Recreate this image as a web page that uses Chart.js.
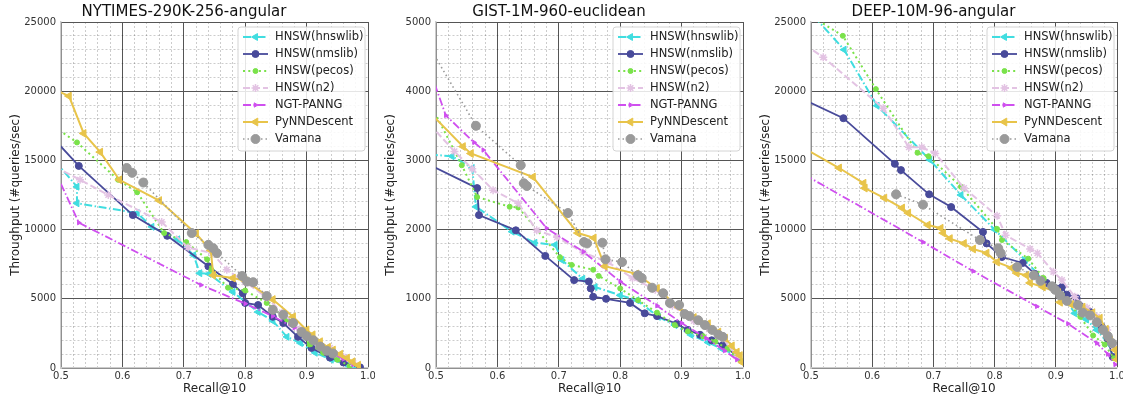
<!DOCTYPE html>
<html>
<head>
<meta charset="utf-8">
<script src="https://cdn.jsdelivr.net/npm/chart.js@4.4.0/dist/chart.umd.min.js"></script>
<style>
  html, body { margin: 0; padding: 0; background: #fff; }
  body { width: 1123px; height: 395px; position: relative; overflow: hidden; }
  .panel { position: absolute; top: 0; width: 380px; height: 395px; }
  canvas { display: block; }
</style>
</head>
<body>
<div class="panel" style="left:0px"><canvas id="c0" width="380" height="395"></canvas></div>
<div class="panel" style="left:375px"><canvas id="c1" width="380" height="395"></canvas></div>
<div class="panel" style="left:750px"><canvas id="c2" width="380" height="395"></canvas></div>
<script>
// series names, same order in each panel
const seriesNames = ['HNSW(hnswlib)', 'HNSW(nmslib)', 'HNSW(pecos)', 'HNSW(n2)', 'NGT-PANNG', 'PyNNDescent', 'Vamana'];
const panelTitles = ['NYTIMES-290K-256-angular', 'GIST-1M-960-euclidean', 'DEEP-10M-96-angular'];
const yMaxes = [25000, 5000, 25000];

// [recall, queries/sec]
const nytHnswlib = [[0.49,14970],[0.526,13100],[0.526,11900],[0.624,11200],[0.648,10200],[0.69,9300],[0.716,8150],[0.726,6850],[0.741,6800],[0.78,5500],[0.821,4050],[0.845,3400],[0.868,2250],[0.89,1800],[0.914,1100],[0.94,600],[0.966,220],[0.98,50]];
const nytNmslib = [[0.49,16480],[0.529,14600],[0.617,11050],[0.673,9550],[0.74,7350],[0.78,6050],[0.796,5400],[0.8,4700],[0.821,4550],[0.845,3700],[0.862,3250],[0.886,2250],[0.908,1450],[0.938,750],[0.96,400],[0.987,50]];
const nytPecos = [[0.49,17400],[0.526,16300],[0.593,13600],[0.624,12700],[0.668,9750],[0.704,9100],[0.738,7850],[0.745,7100],[0.772,5800],[0.8,5600],[0.835,4700],[0.868,3500],[0.89,2600],[0.905,1700],[0.927,1100],[0.95,600],[0.97,150]];
const nytN2 = [[0.49,14530],[0.531,13600],[0.577,12500],[0.664,10550],[0.707,8700],[0.746,8300],[0.77,7100],[0.8,6200],[0.835,5100],[0.86,4000],[0.889,2800],[0.91,2100],[0.938,1450],[0.96,800],[0.976,350]];
const nytPanng = [[0.49,14260],[0.529,10500],[0.728,6000],[0.8,4650],[0.845,3750],[0.88,2900],[0.91,1900],[0.94,1100],[0.96,650],[0.976,250]];
const nytPynn = [[0.49,20100],[0.513,19650],[0.537,16950],[0.564,15600],[0.595,13600],[0.66,12100],[0.72,9700],[0.744,8500],[0.748,6700],[0.78,6500],[0.8,6300],[0.845,4950],[0.878,3700],[0.9,2750],[0.91,2400],[0.922,1900],[0.935,1500],[0.943,1300],[0.955,1000],[0.966,720],[0.975,450],[0.984,200]];
const nytVamana = [[0.607,14450],[0.616,14100],[0.634,13400],[0.713,9750],[0.74,8900],[0.748,8650],[0.754,8300],[0.795,6650],[0.803,6250],[0.813,6200],[0.835,5200],[0.845,4200],[0.862,3850],[0.878,3250],[0.892,2600],[0.9,2300],[0.911,2000],[0.922,1550],[0.933,1250],[0.943,1050]];

const gistHnswlib = [[0.49,3085],[0.526,3060],[0.559,2890],[0.565,2330],[0.624,1970],[0.661,1810],[0.694,1780],[0.705,1560],[0.739,1290],[0.759,1170],[0.8,1050],[0.827,980],[0.862,740],[0.889,620],[0.915,480],[0.943,370],[0.965,280],[0.987,190]];
const gistNmslib = [[0.49,2935],[0.567,2600],[0.57,2210],[0.63,1990],[0.678,1620],[0.725,1270],[0.749,1250],[0.752,1150],[0.756,1030],[0.777,1000],[0.816,940],[0.84,790],[0.86,750],[0.892,640],[0.91,550],[0.93,480],[0.949,400],[0.967,330],[0.99,180]];
const gistPecos = [[0.49,3830],[0.542,2930],[0.567,2470],[0.62,2330],[0.634,2320],[0.702,1600],[0.721,1490],[0.756,1420],[0.765,1330],[0.8,1150],[0.829,980],[0.86,800],[0.889,620],[0.91,530],[0.935,460],[0.955,380],[0.975,280],[0.987,200],[0.995,120]];
const gistN2 = [[0.49,3520],[0.53,3130],[0.559,2880],[0.593,2570],[0.634,2380],[0.664,1990],[0.697,1890],[0.74,1670],[0.78,1530],[0.82,1300],[0.857,1130],[0.885,900],[0.92,680],[0.945,560],[0.967,430],[0.99,170]];
const gistPanng = [[0.49,4300],[0.516,3650],[0.562,3260],[0.577,3150],[0.68,2020],[0.74,1680],[0.8,1250],[0.86,900],[0.9,650],[0.94,430],[0.97,250],[0.99,120]];
const gistPynn = [[0.49,3690],[0.544,3200],[0.557,3100],[0.658,2760],[0.731,1950],[0.757,1880],[0.775,1470],[0.826,1360],[0.86,1150],[0.895,880],[0.92,730],[0.943,640],[0.96,520],[0.971,430],[0.982,320],[0.99,230],[0.995,180],[0.999,80]];
const gistVamana = [[0.49,4630],[0.565,3500],[0.638,2930],[0.643,2670],[0.648,2630],[0.715,2240],[0.741,1820],[0.746,1800],[0.771,1810],[0.776,1570],[0.803,1530],[0.829,1340],[0.835,1300],[0.852,1160],[0.87,1080],[0.881,940],[0.896,910],[0.905,780],[0.913,750],[0.927,690],[0.938,620],[0.95,550],[0.96,480],[0.967,450]];

const deepHnswlib = [[0.505,25400],[0.554,23000],[0.608,18950],[0.694,15050],[0.745,12500],[0.8,10000],[0.85,7800],[0.88,6300],[0.907,5600],[0.931,3950],[0.95,3500],[0.967,2750],[0.985,1800],[0.994,800]];
const deepNmslib = [[0.49,19360],[0.553,18050],[0.637,14750],[0.647,14300],[0.693,12550],[0.729,11630],[0.781,9830],[0.787,9000],[0.812,8020],[0.846,7590],[0.866,6800],[0.885,6150],[0.91,5850],[0.918,5300],[0.934,5050],[0.956,4050],[0.975,3000],[0.985,2100],[0.993,800]];
const deepPecos = [[0.505,25300],[0.552,24000],[0.606,20150],[0.674,15550],[0.692,15300],[0.745,13100],[0.804,10050],[0.812,9250],[0.855,7900],[0.88,6500],[0.91,5300],[0.94,3700],[0.961,2350],[0.98,1700],[0.995,700]];
const deepN2 = [[0.49,23350],[0.52,22450],[0.618,18770],[0.66,15950],[0.681,15950],[0.703,15500],[0.75,13000],[0.804,11000],[0.818,9600],[0.858,8600],[0.87,8300],[0.896,6950],[0.91,6350],[0.931,5150],[0.951,4350],[0.967,3700],[0.984,2750],[0.995,1500]];
const deepPanng = [[0.49,13950],[0.683,9100],[0.765,7000],[0.869,4450],[0.92,3200],[0.967,1800],[0.985,1000],[0.997,250]];
const deepPynn = [[0.49,15850],[0.546,14450],[0.586,13350],[0.588,13000],[0.62,12280],[0.649,11560],[0.659,11200],[0.691,10330],[0.712,10100],[0.716,9750],[0.727,9350],[0.75,9000],[0.765,8600],[0.787,8300],[0.804,7650],[0.828,7230],[0.836,6860],[0.852,6700],[0.858,6150],[0.879,5850],[0.904,5450],[0.907,4750],[0.925,4600],[0.944,4400],[0.96,4000],[0.972,3600],[0.982,2800],[0.989,2000],[0.997,1300],[1.0,600]];
const deepVamana = [[0.639,12550],[0.683,11800],[0.776,9250],[0.806,8650],[0.81,8300],[0.837,7300],[0.864,6700],[0.875,6300],[0.894,5900],[0.899,5650],[0.907,5250],[0.918,4850],[0.936,4550],[0.944,4000],[0.956,3800],[0.967,3300],[0.977,2750],[0.985,2300],[0.992,1800]];

const panelSeries = [
    [nytHnswlib, nytNmslib, nytPecos, nytN2, nytPanng, nytPynn, nytVamana],
    [gistHnswlib, gistNmslib, gistPecos, gistN2, gistPanng, gistPynn, gistVamana],
    [deepHnswlib, deepNmslib, deepPecos, deepN2, deepPanng, deepPynn, deepVamana]
];

const styles = [
    { color: '#40DDE0', dash: [8, 2.5, 1.5, 2.5], width: 2, point: 'triangle', rot: -90, r: 4 },
    { color: '#484A9A', dash: [], width: 1.8, point: 'circle', rot: 0, r: 3.5 },
    { color: '#7AE24A', dash: [2, 3.3], width: 2, point: 'circle', rot: 0, r: 2.5 },
    { color: '#E3C3E3', dash: [7, 3], width: 2, point: 'star', rot: 0, r: 4 },
    { color: '#CF4FEF', dash: [8, 2.5, 1.5, 2.5], width: 1.8, point: 'triangle', rot: 90, r: 2.5 },
    { color: '#E8C44A', dash: [], width: 2, point: 'triangle', rot: -90, r: 4.5 },
    { color: '#9A9A9A', dash: [1.5, 3], width: 1.6, point: 'circle', rot: 0, r: 4.5 }
];

const FONT = "'DejaVu Sans', 'Liberation Sans', sans-serif";
const xTicks = [];
for (let i = 0; i <= 25; i++) xTicks.push(+(0.5 + i * 0.02).toFixed(2));

function near(v, step) {
    return Math.abs(v / step - Math.round(v / step)) < 1e-6;
}

const whiteBg = {
    id: 'whiteBg',
    beforeDraw(chart) {
        const ctx = chart.ctx;
        ctx.save();
        ctx.fillStyle = '#fff';
        ctx.fillRect(0, 0, chart.width, chart.height);
        ctx.restore();
    }
};

const boxLegend = {
    id: 'boxLegend',
    afterDraw(chart) {
        const ctx = chart.ctx;
        const a = chart.chartArea;
        const w = 127, h = 124;
        const left = a.right - w - 3, top = a.top + 5;
        ctx.save();
        ctx.beginPath();
        ctx.roundRect(left, top, w, h, 3);
        ctx.fillStyle = 'rgba(255,255,255,0.85)';
        ctx.fill();
        ctx.strokeStyle = '#d4d4d4';
        ctx.lineWidth = 1;
        ctx.stroke();
        seriesNames.forEach((name, i) => {
            const s = styles[i];
            const y = top + 10 + i * 17;
            ctx.beginPath();
            ctx.setLineDash(s.dash);
            ctx.strokeStyle = s.color;
            ctx.lineWidth = s.width;
            ctx.moveTo(left + 5, y);
            ctx.lineTo(left + 30, y);
            ctx.stroke();
            ctx.setLineDash([]);
            ctx.fillStyle = s.color;
            ctx.strokeStyle = s.color;
            ctx.lineWidth = s.point === 'star' ? 1.5 : 1;
            Chart.helpers.drawPoint(ctx, { pointStyle: s.point, rotation: s.rot, radius: s.r, borderWidth: ctx.lineWidth }, left + 17.5, y);
            ctx.fillStyle = '#222';
            ctx.font = '11.5px ' + FONT;
            ctx.textBaseline = 'middle';
            ctx.fillText(name, left + 37, y + 0.5);
        });
        ctx.restore();
    }
};

panelSeries.forEach((series, p) => {
    const yMax = yMaxes[p];
    const yMinor = yMax / 25;
    const yMajor = yMax / 5;
    const yTicks = [];
    for (let i = 0; i <= 25; i++) yTicks.push(i * yMinor);

    const datasets = series.map((pts, i) => {
        const s = styles[i];
        return {
            label: seriesNames[i],
            data: pts.map(d => ({ x: d[0], y: d[1] })),
            borderColor: s.color,
            backgroundColor: s.color,
            borderWidth: s.width,
            borderDash: s.dash,
            pointStyle: s.point,
            rotation: s.rot,
            pointRadius: s.r,
            pointBorderWidth: s.point === 'star' ? 1.5 : 1,
            pointBorderColor: s.color,
            pointBackgroundColor: s.color,
            tension: 0,
            fill: false,
            order: 6 - i
        };
    });

    const gridColor = (step) => (c) => (c.tick && near(c.tick.value, step)) ? '#555' : 'rgba(0,0,0,0.2)';
    const gridDash = (step) => (c) => (!c.tick || near(c.tick.value, step)) ? [] : [2, 2];

    new Chart(document.getElementById('c' + p), {
        type: 'line',
        data: { datasets: datasets },
        options: {
            responsive: false,
            animation: false,
            devicePixelRatio: 1,
            layout: { padding: { left: 0, right: p === 2 ? 13 : 12, top: 0, bottom: 0 } },
            plugins: {
                legend: { display: false },
                tooltip: { enabled: false },
                title: {
                    display: true,
                    text: panelTitles[p],
                    color: '#111',
                    font: { family: FONT, size: 15, weight: 'normal' },
                    padding: { top: 3, bottom: 1 }
                }
            },
            scales: {
                x: {
                    type: 'linear',
                    min: 0.5,
                    max: 1.0,
                    afterBuildTicks: (s) => { s.ticks = xTicks.map(v => ({ value: v })); },
                    afterFit: (s) => { s.height = 27; },
                    ticks: {
                        autoSkip: false,
                        maxRotation: 0,
                        padding: 2,
                        color: '#333',
                        font: { family: FONT, size: 10 },
                        callback: (v) => near(v, 0.1) ? v.toFixed(1) : ''
                    },
                    grid: { color: gridColor(0.1), lineWidth: 1, drawTicks: false },
                    border: { display: true, color: '#ccc', width: 1.5, dash: gridDash(0.1) },
                    title: {
                        display: true,
                        text: 'Recall@10',
                        color: '#222',
                        font: { family: FONT, size: 12, lineHeight: 1 },
                        padding: { top: 0, bottom: 0 }
                    }
                },
                y: {
                    type: 'linear',
                    min: 0,
                    max: yMax,
                    afterBuildTicks: (s) => { s.ticks = yTicks.map(v => ({ value: v })); },
                    afterFit: (s) => { s.width = 61; },
                    ticks: {
                        autoSkip: false,
                        padding: 5,
                        color: '#333',
                        font: { family: FONT, size: 10 },
                        callback: (v) => near(v, yMajor) ? String(Math.round(v)) : ''
                    },
                    grid: { color: gridColor(yMajor), lineWidth: 1, drawTicks: false },
                    border: { display: true, color: '#ccc', width: 1.5, dash: gridDash(yMajor) },
                    title: {
                        display: true,
                        text: 'Throughput (#queries/sec)',
                        color: '#222',
                        font: { family: FONT, size: 12, lineHeight: 1.2 },
                        padding: { top: 9, bottom: 0 }
                    }
                }
            }
        },
        plugins: [whiteBg, boxLegend]
    });
});
</script>
</body>
</html>
